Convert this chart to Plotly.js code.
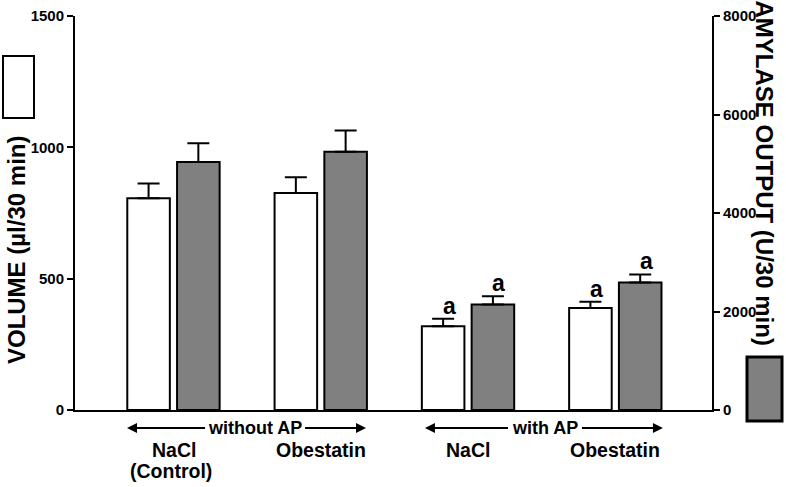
<!DOCTYPE html>
<html>
<head>
<meta charset="utf-8">
<script src="https://cdn.plot.ly/plotly-3.0.1.min.js"></script>
<style>html,body{margin:0;padding:0;background:#fff;}#chart{width:786px;height:487px;}</style>
</head>
<body>
<div id="chart"></div>
<script>
// Data
var groups = [0, 1, 2, 3];
var groupLabels = ["NaCl", "Obestatin", "NaCl", "Obestatin"];
var groupSubLabels = ["(Control)", "", "", ""];
var volume = [806, 826, 319, 388];          // µl/30 min (left axis)
var volumeSE = [56, 60, 28, 24];
var amylase = [5035, 5246, 2143, 2590];     // U/30 min (right axis)
var amylaseSE = [380, 427, 168, 163];
var sigVolume = ["", "", "a", "a"];
var sigAmylase = ["", "", "a", "a"];
var conditionLabels = ["without AP", "with AP"];
var volumeTicks = [0, 500, 1000, 1500];
var amylaseTicks = [0, 2000, 4000, 6000, 8000];

var FONT = "Liberation Sans, Arial, sans-serif";
var W = 0.289, OFF_W = -0.314, OFF_G = 0.024;

var traces = [
  {
    type: "bar", x: groups, y: volume, yaxis: "y",
    width: W, offset: OFF_W,
    marker: {color: "#ffffff", line: {color: "#000000", width: 2}},
    error_y: {type: "data", array: volumeSE, arrayminus: volumeSE.map(function(){return 0;}),
              symmetric: false, color: "#000000", thickness: 2, width: 11},
    showlegend: false, hoverinfo: "skip"
  },
  {
    type: "bar", x: groups, y: amylase, yaxis: "y2",
    width: W, offset: OFF_G,
    marker: {color: "#808080", line: {color: "#000000", width: 2}},
    error_y: {type: "data", array: amylaseSE, arrayminus: amylaseSE.map(function(){return 0;}),
              symmetric: false, color: "#000000", thickness: 2, width: 11},
    showlegend: false, hoverinfo: "skip"
  }
];

var annotations = [];
groups.forEach(function(g, i) {
  if (sigVolume[i]) annotations.push({
    x: g + OFF_W + W / 2, y: volume[i] + volumeSE[i], xref: "x", yref: "y",
    text: "<b>" + sigVolume[i] + "</b>", showarrow: false, yanchor: "bottom", xshift: 6, yshift: -2,
    font: {family: FONT, size: 23, color: "#000"}
  });
  if (sigAmylase[i]) annotations.push({
    x: g + OFF_G + W / 2, y: amylase[i] + amylaseSE[i], xref: "x", yref: "y2",
    text: "<b>" + sigAmylase[i] + "</b>", showarrow: false, yanchor: "bottom", xshift: 6, yshift: -2,
    font: {family: FONT, size: 23, color: "#000"}
  });
  annotations.push({
    x: g, y: 0, xref: "x", yref: "paper", yanchor: "middle", xanchor: "center", yshift: -40,
    text: "<b>" + groupLabels[i] + "</b>", showarrow: false,
    font: {family: FONT, size: 19.5, color: "#000"}
  });
  if (groupSubLabels[i]) annotations.push({
    x: g, y: 0, xref: "x", yref: "paper", yanchor: "middle", xanchor: "center", yshift: -61, xshift: -3,
    text: "<b>" + groupSubLabels[i] + "</b>", showarrow: false,
    font: {family: FONT, size: 19.5, color: "#000"}
  });
});
// condition labels with arrows: [leftArrowStart, leftArrowEnd, textCenter, rightArrowStart, rightArrowEnd]
var arrowSpecs = [[-0.316, 0.214, 0.553, 0.893, 1.307], [1.707, 2.271, 2.522, 2.773, 3.323]];
var shapes = [];
var AY = -0.0457;
arrowSpecs.forEach(function(a, k) {
  annotations.push({
    x: a[2], y: AY, xref: "x", yref: "paper", yanchor: "middle", xanchor: "center",
    text: "<b>" + conditionLabels[k] + "</b>", showarrow: false,
    font: {family: FONT, size: 18, color: "#000"}
  });
  shapes.push({type: "line", xref: "x", yref: "paper", x0: a[0] + 0.04, x1: a[1], y0: AY, y1: AY, line: {color: "#000", width: 2}});
  shapes.push({type: "line", xref: "x", yref: "paper", x0: a[3], x1: a[4] - 0.04, y0: AY, y1: AY, line: {color: "#000", width: 2}});
  annotations.push({x: a[0], y: AY, ax: 12, ay: 0, xref: "x", yref: "paper", showarrow: true, arrowhead: 2, arrowsize: 1, arrowwidth: 2, arrowcolor: "#000", text: "", standoff: 0});
  annotations.push({x: a[4], y: AY, ax: -12, ay: 0, xref: "x", yref: "paper", showarrow: true, arrowhead: 2, arrowsize: 1, arrowwidth: 2, arrowcolor: "#000", text: "", standoff: 0});
});
// axis titles
annotations.push({
  x: -0.0926, y: 0.406, xref: "paper", yref: "paper", textangle: -90, showarrow: false,
  xanchor: "center", yanchor: "middle",
  text: "<b>VOLUME (µl/30 min)</b>", font: {family: FONT, size: 24, color: "#000"}
});
annotations.push({
  x: 1.082, y: 1.045, xref: "paper", yref: "paper", textangle: 90, showarrow: false,
  xanchor: "center", yanchor: "top",
  text: "<b>AMYLASE OUTPUT (U/30 min)</b>", font: {family: FONT, size: 24, color: "#000"}
});
// legend boxes
shapes.push({type: "rect", xref: "paper", yref: "paper", x0: (3 - 75) / 637, x1: (34 - 75) / 637,
  y0: (410 - 118) / 394, y1: (410 - 56) / 394, line: {color: "#000", width: 2}, fillcolor: "#ffffff"});
shapes.push({type: "rect", xref: "paper", yref: "paper", x0: (747 - 75) / 637, x1: (782 - 75) / 637,
  y0: (410 - 421) / 394, y1: (410 - 357) / 394, line: {color: "#000", width: 3}, fillcolor: "#808080"});

var tickFont = {family: FONT, size: 15, color: "#000"};
var layout = {
  width: 786, height: 487,
  margin: {l: 75, r: 74, t: 16, b: 77, pad: 0},
  paper_bgcolor: "#ffffff", plot_bgcolor: "#ffffff",
  showlegend: false, barmode: "overlay",
  font: {family: FONT, color: "#000"},
  xaxis: {range: [-0.669, 3.656], showticklabels: false, ticks: "", showgrid: false, zeroline: false,
          showline: true, linecolor: "#000", linewidth: 2, fixedrange: true},
  yaxis: {range: [0, 1500], tickvals: volumeTicks, ticktext: volumeTicks.map(function(v){return "<b>" + v + "</b>";}),
          ticks: "outside", ticklen: 6, tickwidth: 2, tickcolor: "#000",
          showline: true, linecolor: "#000", linewidth: 2, showgrid: false, zeroline: false,
          tickfont: tickFont},
  yaxis2: {range: [0, 8000], tickvals: amylaseTicks, ticktext: amylaseTicks.map(function(v){return "<b>" + v + "</b>";}),
           overlaying: "y", side: "right",
           ticks: "outside", ticklen: 6, tickwidth: 2, tickcolor: "#000",
           showline: true, linecolor: "#000", linewidth: 2, showgrid: false, zeroline: false,
           tickfont: tickFont},
  annotations: annotations,
  shapes: shapes
};

Plotly.newPlot("chart", traces, layout, {displayModeBar: false, staticPlot: true});
</script>
</body>
</html>
